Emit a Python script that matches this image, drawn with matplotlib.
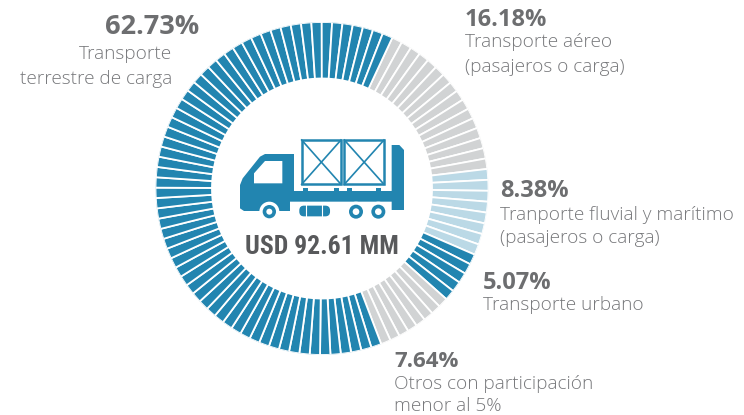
import numpy as np
import matplotlib
matplotlib.use("Agg")
import matplotlib.pyplot as plt
from matplotlib.patches import Circle, Polygon, Rectangle, FancyBboxPatch

# values, clockwise from the top right
shares = [16.18, 8.38, 5.07, 7.64, 62.73]
pct_labels = ["16.18%", "8.38%", "5.07%", "7.64%", "62.73%"]
names = [
    "Transporte aéreo\n(pasajeros o carga)",
    "Tranporte fluvial y marítimo\n(pasajeros o carga)",
    "Transporte urbano",
    "Otros con participación\nmenor al 5%",
    "Transporte\nterrestre de carga",
]
total_label = "USD 92.61 MM"

BLUE = "#2285b0"
GREY = "#d1d3d4"
LIGHT = "#bbd9e6"
TEXT = "#6d6e70"
colors = [GREY, LIGHT, BLUE, GREY, BLUE]

W, H = 744, 415
CX, CY, R_OUT, R_IN = 322, 188.5, 166.5, 110
START = 25.0

fig = plt.figure(figsize=(W / 100, H / 100), dpi=100)
plt.rcParams["font.family"] = ["Open Sans", "DejaVu Sans"]

# ring
ax = fig.add_axes([(CX - R_OUT) / W, 1 - (CY + R_OUT) / H, 2 * R_OUT / W, 2 * R_OUT / H], projection="polar")
ax.set_theta_zero_location("N")
ax.set_theta_direction(-1)
ax.set_ylim(0, R_OUT)
ax.axis("off")

angle = START
for share, color in zip(shares, colors):
    span = share * 3.6
    count = int(round(share))
    step = span / count
    centers = angle + step * (np.arange(count) + 0.5)
    # white edge keeps the gap the same width along the bar
    ax.bar(np.radians(centers), R_OUT - R_IN, width=np.radians(step), bottom=R_IN, color=color,
           edgecolor="white", linewidth=1.3)
    angle += span

# overlay in pixel coordinates, for the truck and the texts
ov = fig.add_axes([0, 0, 1, 1])
ov.set_xlim(0, W)
ov.set_ylim(H, 0)
ov.axis("off")


def zx(v):
    return 220 + v / 3


def zy(v):
    return 130 + v / 3


def pts(items):
    return [(zx(a), zy(b)) for a, b in items]


# truck body
body = [(60, 228), (60, 165), (68, 145), (120, 80), (135, 72), (222, 72), (222, 183), (515, 183), (515, 45),
        (538, 45), (552, 60), (552, 240), (515, 240), (515, 215), (210, 215), (210, 243), (72, 243), (60, 235)]
ov.add_patch(Polygon(pts(body), closed=True, fc=BLUE, ec="none"))
ov.add_patch(Polygon(pts([(102, 160), (102, 130), (135, 93), (187, 93), (187, 160)]), closed=True, fc="white", ec="none"))

# crates
for x0, x1 in [(245, 363), (373, 492)]:
    ov.add_patch(Rectangle((zx(x0), zy(30)), (x1 - x0) / 3, 133 / 3, fc="white", ec=BLUE, lw=1.8))
    ov.plot([zx(x0), zx(x1)], [zy(30), zy(163)], color=BLUE, lw=1.2)
    ov.plot([zx(x0), zx(x1)], [zy(163), zy(30)], color=BLUE, lw=1.2)
for x0 in [250, 342, 381, 468]:
    ov.add_patch(Rectangle((zx(x0), zy(173)), 15 / 3, 10 / 3, fc=BLUE, ec="none"))

# wheels
for x0, y0, ro, ri in [(148, 245, 20, 9), (408, 245, 21, 10), (475, 245, 21, 10)]:
    ov.add_patch(Circle((zx(x0), zy(y0)), 30 / 3, fc="white", ec="none"))
    ov.add_patch(Circle((zx(x0), zy(y0)), ro / 3, fc=BLUE, ec="none"))
    ov.add_patch(Circle((zx(x0), zy(y0)), ri / 3, fc="white", ec="none"))

# tank
ov.add_patch(FancyBboxPatch((zx(240), zy(229)), 88 / 3, 28 / 3, boxstyle="round,pad=0,rounding_size=4",
                            fc=BLUE, ec=BLUE, lw=1.0))
for x0 in [258, 305]:
    ov.plot([zx(x0), zx(x0)], [zy(226), zy(260)], color="white", lw=0.8)

ov.text(322, 247, total_label, ha="center", va="center", color="#58595b", fontsize=18.5, fontweight="bold",
        family=["Roboto Condensed", "Open Sans Condensed", "Liberation Sans Narrow", "Lato", "DejaVu Sans"])

# x, percent baseline, percent size, name baseline, line step, alignment of the name lines
places = [
    (465, 26, 17, 47, 24.5, "left"),
    (500, 197, 17, 220, 23, "left"),
    (483, 289, 17, 310, 24, "left"),
    (394, 367, 16, 389, 22, "left"),
    (172, 34, 19.5, 59, 25, "right"),
]
for i, (x, y_pct, size, y_name, step, ha) in enumerate(places):
    if ha == "left":
        ov.text(x, y_pct, pct_labels[i], color=TEXT, fontsize=size, fontweight="bold", va="baseline")
    else:
        ov.text(199, y_pct, pct_labels[i], color=TEXT, fontsize=size, fontweight="bold", va="baseline", ha="right")
    for j, line in enumerate(names[i].split("\n")):
        ov.text(x, y_name + j * step, line, color="#77787b", fontsize=13.7, fontweight="light", va="baseline", ha=ha)

fig.savefig("out.png", dpi=100)
